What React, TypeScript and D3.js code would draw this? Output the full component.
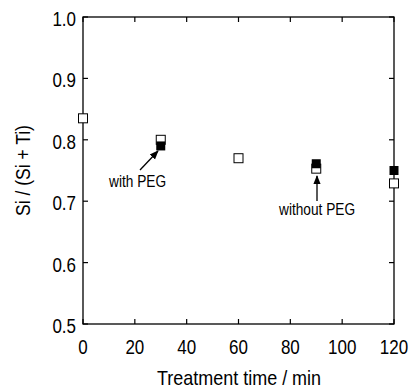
import React from "react";
import * as d3 from "d3";

const withoutTime = [0, 30, 60, 90, 120];
const withoutVal = [0.835, 0.8, 0.77, 0.753, 0.729];
const withTime = [30, 90, 120];
const withVal = [0.79, 0.761, 0.75];
const xTicks = [0, 20, 40, 60, 80, 100, 120];
const yTicks = [0.5, 0.6, 0.7, 0.8, 0.9, 1.0];

const font = "Liberation Sans, Arial, sans-serif";
const SY = 1.15;

function T({ x, y, size, anchor = "start", rotate = 0, children }: any) {
  return (
    <text
      transform={`translate(${x},${y}) rotate(${rotate}) scale(1,${SY})`}
      textAnchor={anchor}
      fontFamily={font}
      fontSize={size}
      fill="#000"
    >
      {children}
    </text>
  );
}

export default function App() {
  const W = 411, H = 388;
  const L = 83, R = 394, Tp = 17, B = 324;
  const x = d3.scaleLinear().domain([0, 120]).range([L, R]);
  const y = d3.scaleLinear().domain([0.5, 1.0]).range([B, Tp]);
  const tl = 5;
  const s = 9;
  return (
    <svg width={W} height={H} style={{ position: "absolute", left: 0, top: 0 }}>
      <rect x={0} y={0} width={W} height={H} fill="#fff" />
      <rect x={L} y={Tp} width={R - L} height={B - Tp} fill="none" stroke="#000" strokeWidth={1.3} />
      {xTicks.map((t) => (
        <g key={"x" + t}>
          <line x1={x(t)} x2={x(t)} y1={B} y2={B - tl} stroke="#000" strokeWidth={1.2} />
          <line x1={x(t)} x2={x(t)} y1={Tp} y2={Tp + tl} stroke="#000" strokeWidth={1.2} />
          <T x={x(t)} y={354} size={17} anchor="middle">{t}</T>
        </g>
      ))}
      {yTicks.map((t) => (
        <g key={"y" + t}>
          <line x1={L} x2={L + tl} y1={y(t)} y2={y(t)} stroke="#000" strokeWidth={1.2} />
          <line x1={R} x2={R - tl} y1={y(t)} y2={y(t)} stroke="#000" strokeWidth={1.2} />
          <T x={76} y={y(t) + 9} size={17} anchor="end">{t.toFixed(1)}</T>
        </g>
      ))}
      <T x={239} y={385} size={18} anchor="middle">Treatment time / min</T>
      <T x={30} y={(Tp + B) / 2} size={17.5} anchor="middle" rotate={-90}>Si / (Si + Ti)</T>
      {withoutTime.map((t, i) => (
        <rect
          key={"o" + i}
          x={x(t) - s / 2}
          y={y(withoutVal[i]) - s / 2}
          width={s}
          height={s}
          fill="#fff"
          stroke="#000"
          strokeWidth={1}
        />
      ))}
      {withTime.map((t, i) => (
        <rect
          key={"f" + i}
          x={x(t) - s / 2}
          y={y(withVal[i]) - s / 2}
          width={s}
          height={s}
          fill="#000"
        />
      ))}
      <defs>
        <marker id="ah" viewBox="0 0 10 10" refX="9" refY="5" markerWidth="7" markerHeight="7" orient="auto">
          <path d="M0,1 L10,5 L0,9 z" fill="#000" />
        </marker>
      </defs>
      <line x1={140} y1={170} x2={158} y2={151} stroke="#000" strokeWidth={1.3} markerEnd="url(#ah)" />
      <T x={109} y={187} size={13.7}>with PEG</T>
      <line x1={317} y1={201} x2={317} y2={176} stroke="#000" strokeWidth={1.3} markerEnd="url(#ah)" />
      <T x={279} y={215} size={13.7}>without PEG</T>
    </svg>
  );
}
